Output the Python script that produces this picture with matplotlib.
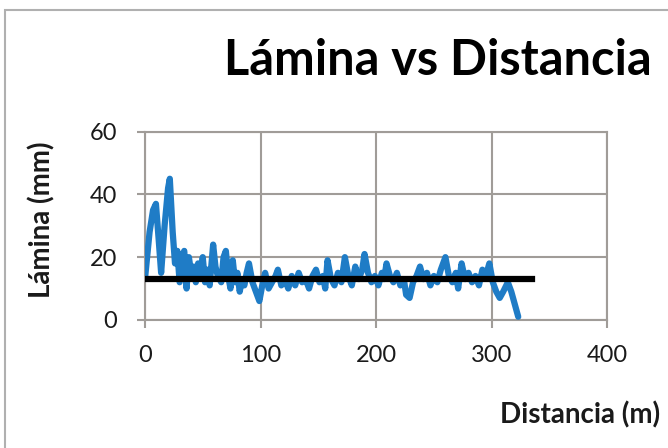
import matplotlib.pyplot as plt
from matplotlib.patches import Rectangle

# distance (m) and water depth (mm)
distancia = [0, 4, 7, 9.5, 12, 14, 17, 20, 21.5, 24, 26, 28, 30, 32, 34, 36, 38, 40, 42, 44,
             46, 48, 50, 52, 54, 56, 59, 61, 63, 66, 68, 70, 72, 74, 76, 78, 80, 82, 84, 86,
             88, 90, 93, 96, 99, 102, 104, 107, 110, 113, 115, 118, 121, 124, 127, 130, 133,
             136, 139, 142, 145, 148, 151, 154, 156, 158, 161, 164, 167, 170, 173, 176, 179,
             182, 185, 188, 190, 193, 196, 199, 202, 205, 207, 209, 212, 215, 218, 221, 224,
             226, 229, 232, 235, 238, 241, 244, 247, 250, 253, 256, 260, 263, 266, 269, 271,
             274, 277, 280, 283, 286, 289, 292, 295, 298, 301, 304, 307, 310, 314, 317, 320, 323]
lamina = [13, 28, 35, 37, 25, 15, 30, 42, 45, 28, 18, 22, 12, 20, 22, 10, 20, 15, 17, 12,
          18, 14, 20, 12, 16, 11, 24, 17, 14, 12, 20, 22, 14, 10, 19, 12, 15, 9, 13, 11,
          15, 18, 12, 9, 6, 12, 15, 10, 12, 14, 16, 11, 13, 10, 14, 11, 15,
          12, 13, 10, 14, 16, 12, 14, 10, 19, 13, 11, 15, 12, 20, 14, 11,
          17, 13, 16, 21, 15, 12, 14, 11, 15, 13, 18, 14, 12, 15, 11, 13,
          8, 7, 12, 14, 17, 13, 15, 11, 14, 12, 16, 20, 14, 12, 15, 10,
          18, 13, 15, 12, 14, 11, 16, 14, 18, 12, 9, 7, 9, 12, 9, 5, 1]

# average depth line
promedio_x = [0, 335]
promedio_y = [13, 13]

x_ticks = [0, 100, 200, 300, 400]
y_ticks = [0, 20, 40, 60]

grid_color = "#a09c98"

fig = plt.figure(figsize=(6.68, 4.48), dpi=100)
ax = fig.add_axes([0.217, 0.286, 0.692, 0.420])

ax.plot(distancia, lamina, color="#1f7cc6", linewidth=4.5, solid_joinstyle="round",
        solid_capstyle="round", zorder=3)
ax.plot(promedio_x, promedio_y, color="black", linewidth=4.5, zorder=4)

ax.set_xlim(0, 400)
ax.set_ylim(0, 60)
ax.set_xticks(x_ticks)
ax.set_yticks(y_ticks)
ax.grid(True, color=grid_color, linewidth=1.5)
for spine in ax.spines.values():
    spine.set_color(grid_color)
    spine.set_linewidth(1.5)
ax.tick_params(axis="both", direction="out", length=6, width=1.5, color=grid_color,
               labelsize=17, labelcolor="#1a1a1a")
ax.tick_params(axis="x", pad=12)
ax.tick_params(axis="y", pad=14)
for lbl in ax.get_xticklabels() + ax.get_yticklabels():
    lbl.set_family("Lato")

fig.text(0.976, 0.865, "Lámina vs Distancia", ha="right", va="center",
         fontsize=35, fontweight="bold", family="Lato", color="black")
fig.text(0.063, 0.51, "Lámina (mm)", rotation=90, ha="center", va="center",
         fontsize=20, fontweight="bold", family="Lato", color="#1a1a1a")
fig.text(0.988, 0.073, "Distancia (m)", ha="right", va="center",
         fontsize=20, fontweight="bold", family="Lato", color="#1a1a1a")

# outer chart frame
fig.patches.append(Rectangle((0.008, -0.01), 0.995, 0.988, transform=fig.transFigure,
                             fill=False, edgecolor="#b0b0b0", linewidth=1.5))

fig.savefig("out.png", dpi=100)
